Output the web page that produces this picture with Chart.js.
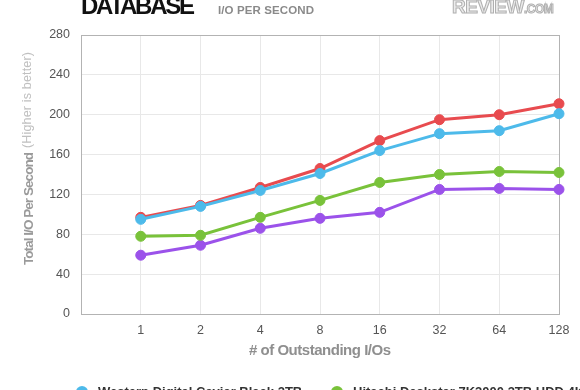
<!DOCTYPE html>
<html><head><meta charset="utf-8">
<script src="https://cdn.jsdelivr.net/npm/chart.js@4/dist/chart.umd.min.js"></script>
<style>html,body{margin:0;padding:0;background:#fff;overflow:hidden}#wrap{width:580px;height:390px;position:relative}</style>
</head><body><div id="wrap"><canvas id="c" width="580" height="390"></canvas></div>
<script>
// Data
const ioDepths = ['1', '2', '4', '8', '16', '32', '64', '128'];
const wdBlack = [95, 108, 124, 141, 164, 181, 184, 201];
const hitachi4k = [78, 79, 97, 114, 132, 140, 143, 142];
const redSeries = [97, 109, 127, 146, 174, 195, 200, 211];
const purpleSeries = [59, 69, 86, 96, 102, 125, 126, 125];
const seriesNames = ['Western Digital Caviar Black 2TB', 'Hitachi Deskstar 7K3000 3TB HDD 4K', 'Seagate Barracuda XT 3TB', 'Hitachi Deskstar 7K3000 3TB HDD 512'];
const seriesColors = ['#4dbaea', '#79c23a', '#e84b4f', '#9b52ea'];
const yMax = 280, yStep = 40;

const labels = [''].concat(ioDepths);
const allSeries = [wdBlack, hitachi4k, redSeries, purpleSeries];

const datasets = allSeries.map((s, i) => ({
  label: seriesNames[i],
  data: [null].concat(s),
  borderColor: seriesColors[i],
  backgroundColor: seriesColors[i],
  pointBackgroundColor: seriesColors[i],
  pointBorderColor: seriesColors[i],
  borderWidth: 3,
  pointRadius: 5,
  pointBorderWidth: 1,
  tension: 0,
  fill: false
}));

const FAM = '"Liberation Sans", Arial, sans-serif';
// draw text at given font size, adjusting letter spacing to fit a target width
function fitText(ctx, text, weight, size, width, x, y) {
  ctx.letterSpacing = '0px';
  ctx.font = weight + ' ' + size + 'px ' + FAM;
  const w = ctx.measureText(text).width;
  const ls = (width - w) / Math.max(1, text.length - 1);
  ctx.letterSpacing = ls.toFixed(2) + 'px';
  ctx.fillText(text, x, y);
  ctx.letterSpacing = '0px';
}

const extras = {
  id: 'extras',
  afterDraw(chart) {
    const ctx = chart.ctx, a = chart.chartArea;
    ctx.save();
    // Title
    ctx.textBaseline = 'alphabetic';
    ctx.textAlign = 'left';
    ctx.fillStyle = '#111';
    fitText(ctx, 'DATABASE', 'bold', 24, 114, 81, 14);
    ctx.fillStyle = '#8a8a8a';
    fitText(ctx, 'I/O PER SECOND', 'bold', 11.5, 96, 218, 14);
    // Logo
    ctx.lineWidth = 1;
    ctx.fillStyle = '#ececec';
    ctx.strokeStyle = '#b0b0b0';
    ctx.letterSpacing = '-0.5px';
    ctx.font = 'bold 19px ' + FAM;
    ctx.fillText('REVIEW', 452, 13);
    ctx.strokeText('REVIEW', 452, 13);
    const rw = ctx.measureText('REVIEW').width;
    ctx.font = 'bold 12px ' + FAM;
    ctx.fillText('.COM', 452 + rw, 13);
    ctx.strokeText('.COM', 452 + rw, 13);
    ctx.letterSpacing = '0px';
    // Y axis title
    ctx.save();
    ctx.translate(29, 0);
    ctx.rotate(-Math.PI / 2);
    ctx.textBaseline = 'middle';
    ctx.textAlign = 'left';
    ctx.fillStyle = '#9a9a9a';
    fitText(ctx, 'Total I/O Per Second', 'bold', 13.5, 113, -265, 0);
    ctx.fillStyle = '#c0c0c0';
    fitText(ctx, '(Higher is better)', 'normal', 12.5, 96, -148, -1);
    ctx.restore();
    // X axis title
    ctx.textAlign = 'left';
    ctx.textBaseline = 'middle';
    ctx.fillStyle = '#8f8f8f';
    fitText(ctx, '# of Outstanding I/Os', 'bold', 15, 142, (a.left + a.right) / 2 - 71, 351);
    // Legend (two columns)
    ctx.textAlign = 'left';
    ctx.font = 'bold 13px ' + FAM;
    chart.data.datasets.forEach((d, i) => {
      const col = i % 2, row = Math.floor(i / 2);
      const x = col === 0 ? 82 : 337;
      const y = 392 + row * 24;
      ctx.fillStyle = d.borderColor;
      ctx.beginPath();
      ctx.arc(x, y, 6, 0, Math.PI * 2);
      ctx.fill();
      ctx.fillStyle = '#333';
      ctx.fillText(d.label, x + 16, y);
    });
    ctx.restore();
  }
};

new Chart(document.getElementById('c'), {
  type: 'line',
  data: { labels, datasets },
  options: {
    responsive: false,
    devicePixelRatio: 1,
    animation: false,
    layout: { padding: { left: 0, right: 21, top: 35, bottom: 0 } },
    plugins: { legend: { display: false }, tooltip: { enabled: false } },
    scales: {
      x: {
        type: 'category',
        offset: false,
        grid: {
          drawTicks: false,
          color: c => c.index === labels.length - 1 ? '#b3b3b3' : '#e8e8e8',
          lineWidth: 1
        },
        border: { color: '#b3b3b3', width: 1 },
        ticks: { color: '#555', font: { size: 12.5, family: FAM }, padding: 9, maxRotation: 0, autoSkip: false },
        afterFit: s => { s.height = 76; }
      },
      y: {
        min: 0, max: yMax,
        grid: {
          drawTicks: false,
          color: c => (c.tick && c.tick.value === yMax) ? '#b3b3b3' : '#e8e8e8',
          lineWidth: 1
        },
        border: { color: '#b3b3b3', width: 1 },
        ticks: { stepSize: yStep, color: '#555', font: { size: 12.5, family: FAM }, padding: 11 },
        afterFit: s => { s.width = 81; }
      }
    }
  },
  plugins: [extras]
});
</script>
</body></html>
